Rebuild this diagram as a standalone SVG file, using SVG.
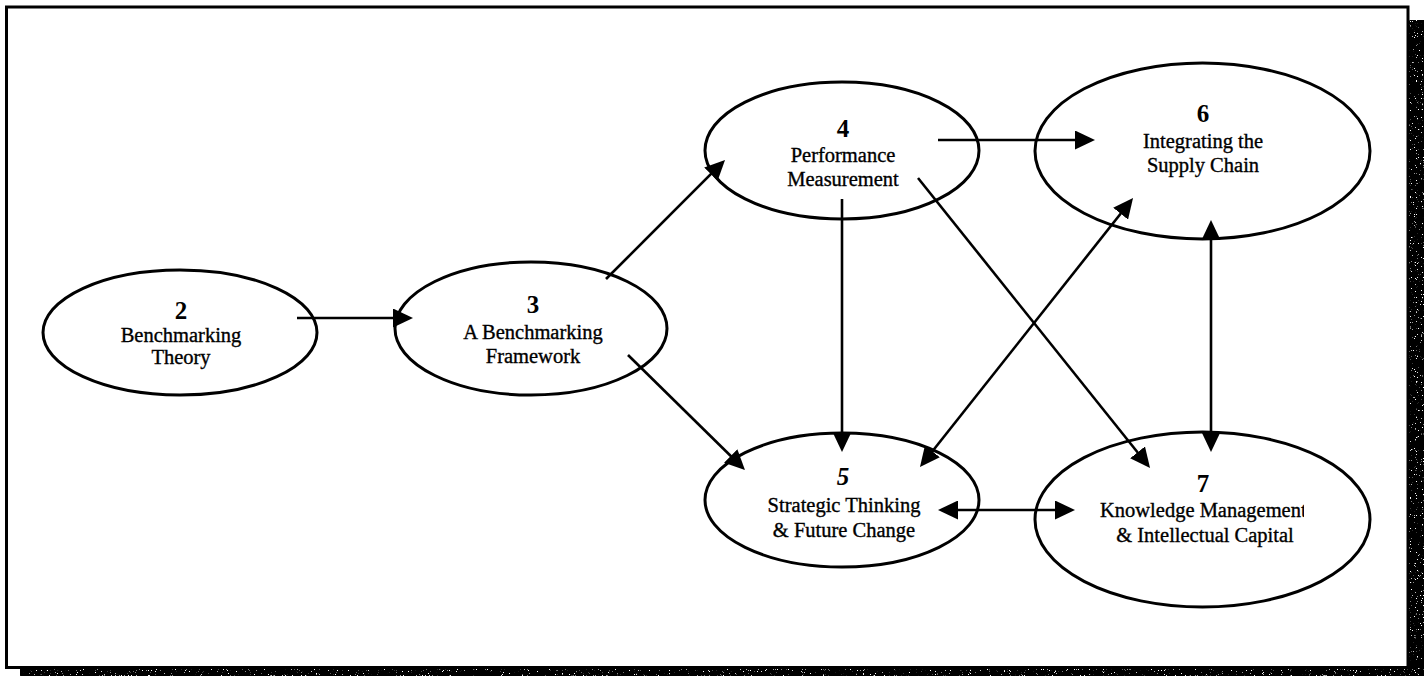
<svg xmlns="http://www.w3.org/2000/svg" width="1424" height="676" viewBox="0 0 1424 676">
  <style>
    .bg { fill: #ffffff; }
    .frame { fill: none; stroke: #000; stroke-width: 3; }
    .node ellipse { fill: none; stroke: #000; stroke-width: 3; }
    .num { font-family: "Liberation Serif", "Times New Roman", serif; font-weight: bold; font-size: 25px; text-anchor: middle; fill: #000; }
    .lbl { font-family: "Liberation Serif", "Times New Roman", serif; font-size: 20.5px; text-anchor: middle; fill: #000; stroke: #000; stroke-width: 0.35; }
    .edge { stroke: #000; stroke-width: 2.6; fill: none; marker-end: url(#head); }
    .both { marker-start: url(#head); }
  </style>
  <defs>
    <marker id="head" viewBox="0 0 20 19" refX="14" refY="9.5" markerWidth="20" markerHeight="19" markerUnits="userSpaceOnUse" orient="auto-start-reverse">
      <path d="M0,0 L20,9.5 L0,19 Z" fill="#000"/>
    </marker>
    <!-- speckled texture for the drop shadow of the frame -->
    <filter id="grain" x="0" y="0" width="100%" height="100%">
      <feTurbulence type="fractalNoise" baseFrequency="0.85" numOctaves="2" seed="7" result="n"/>
      <feColorMatrix in="n" type="matrix" values="0 0 0 0 1  0 0 0 0 1  0 0 0 0 1  12 0 0 0 -8"/>
    </filter>
    <clipPath id="cut7">
      <rect x="1000" y="490" width="304" height="40"/>
    </clipPath>
  </defs>

  <rect class="bg" x="0" y="0" width="1424" height="676"/>

  <!-- frame with grainy drop shadow -->
  <g id="frame">
    <rect x="1409" y="20" width="15" height="656" fill="#000"/>
    <rect x="20" y="669" width="1404" height="7" fill="#000"/>
    <rect x="1409" y="20" width="15" height="656" fill="#fff" filter="url(#grain)"/>
    <rect x="20" y="669" width="1404" height="7" fill="#fff" filter="url(#grain)"/>
    <rect class="frame" x="6.5" y="7" width="1401.5" height="660.5"/>
  </g>

  <g id="connectors">
    <line class="edge" x1="297" y1="318" x2="407" y2="318"/>
    <line class="edge" x1="606" y1="279" x2="720.8" y2="164.2"/>
    <line class="edge" x1="628" y1="355" x2="740.7" y2="465.8"/>
    <line class="edge" x1="938" y1="140" x2="1089" y2="140"/>
    <line class="edge" x1="842" y1="199" x2="842" y2="446"/>
    <line class="edge" x1="918" y1="178" x2="1146.3" y2="463.3"/>
    <line class="edge both" x1="923.7" y1="462.3" x2="1129.3" y2="202.7"/>
    <line class="edge both" x1="1211" y1="226" x2="1211" y2="446"/>
    <line class="edge both" x1="944" y1="510" x2="1069" y2="510"/>
  </g>

  <g id="node2" class="node">
    <ellipse cx="180" cy="332.5" rx="137" ry="62.5"/>
    <text class="num" x="181" y="319">2</text>
    <text class="lbl" x="181" y="342">Benchmarking</text>
    <text class="lbl" x="181" y="364">Theory</text>
  </g>

  <g id="node3" class="node">
    <ellipse cx="531" cy="328.5" rx="136" ry="66.5"/>
    <text class="num" x="533" y="313">3</text>
    <text class="lbl" x="533" y="339">A Benchmarking</text>
    <text class="lbl" x="533" y="363">Framework</text>
  </g>

  <g id="node4" class="node">
    <ellipse cx="842" cy="150.5" rx="137" ry="68.5"/>
    <text class="num" x="843" y="137">4</text>
    <text class="lbl" x="843" y="162">Performance</text>
    <text class="lbl" x="843" y="186">Measurement</text>
  </g>

  <g id="node5" class="node">
    <ellipse cx="842" cy="500" rx="137" ry="67"/>
    <text class="num" x="843" y="485" font-style="italic">5</text>
    <text class="lbl" x="844" y="512">Strategic Thinking</text>
    <text class="lbl" x="844" y="537">&amp; Future Change</text>
  </g>

  <g id="node6" class="node">
    <ellipse cx="1202.5" cy="151" rx="167.5" ry="88"/>
    <text class="num" x="1203" y="122">6</text>
    <text class="lbl" x="1203" y="148">Integrating the</text>
    <text class="lbl" x="1203" y="172">Supply Chain</text>
  </g>

  <g id="node7" class="node">
    <ellipse cx="1202.5" cy="519.5" rx="167.5" ry="87.5"/>
    <text class="num" x="1203" y="492">7</text>
    <text class="lbl" x="1100" y="517" style="text-anchor:start" clip-path="url(#cut7)">Knowledge Management</text>
    <text class="lbl" x="1205" y="542">&amp; Intellectual Capital</text>
  </g>
</svg>
